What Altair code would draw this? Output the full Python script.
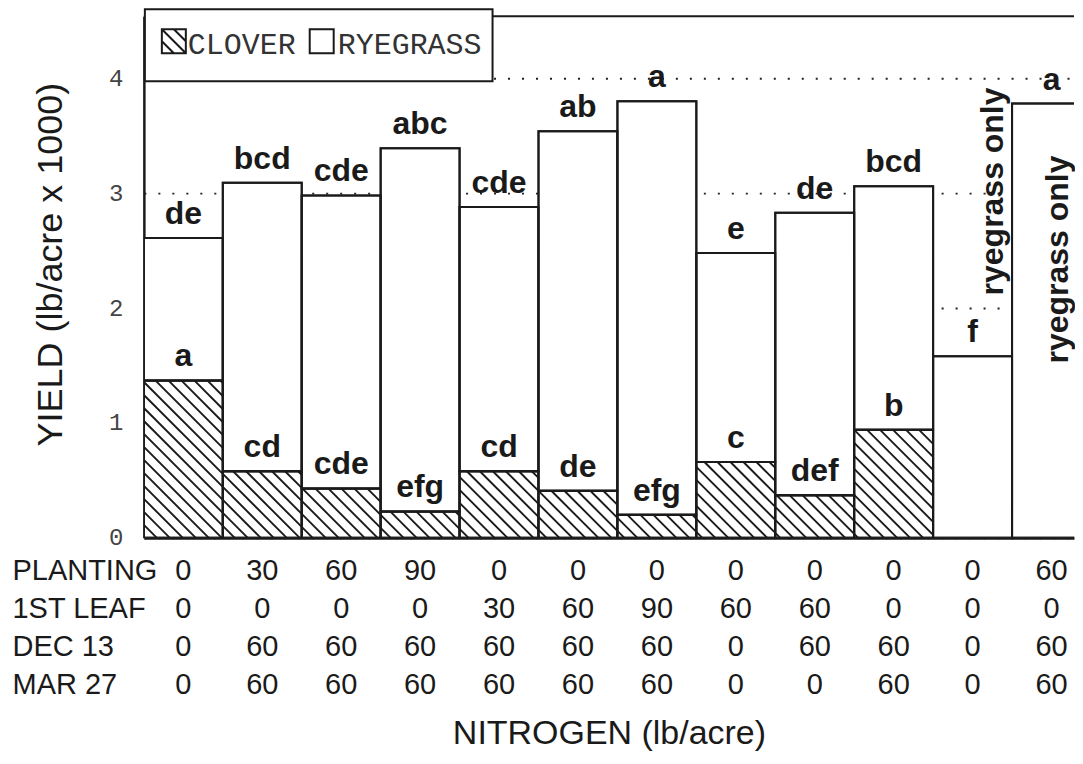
import altair as alt
import numpy as np
import pandas as pd

# ------------------------------------------------------------------ data
treatment = list(range(1, 13))
clover_yield = [1.37, 0.58, 0.43, 0.23, 0.58, 0.41, 0.20, 0.66, 0.37, 0.94, 0.0, 0.0]
total_yield = [2.61, 3.09, 2.98, 3.39, 2.88, 3.54, 3.80, 2.48, 2.83, 3.06, 1.58, 3.78]
clover_letter = ["a", "cd", "cde", "efg", "cd", "de", "efg", "c", "def", "b", "", ""]
total_letter = ["de", "bcd", "cde", "abc", "cde", "ab", "a", "e", "de", "bcd", "f", "a"]
note = ["", "", "", "", "", "", "", "", "", "", "ryegrass only", "ryegrass only"]

row_names = ["PLANTING", "1ST LEAF", "DEC 13", "MAR 27"]
n_planting = [0, 30, 60, 90, 0, 0, 0, 0, 0, 0, 0, 60]
n_first_leaf = [0, 0, 0, 0, 30, 60, 90, 60, 60, 0, 0, 0]
n_dec13 = [0, 60, 60, 60, 60, 60, 60, 0, 60, 60, 0, 60]
n_mar27 = [0, 60, 60, 60, 60, 60, 60, 0, 0, 60, 0, 60]

y_tick_values = [0, 1, 2, 3, 4]
legend_labels = ["CLOVER", "RYEGRASS"]

# ------------------------------------------------------------------ layout
W, H = 931, 522
BAR_PX = 79.0
Y_PX = 115.0
X_LO = 0.5
X_HI = X_LO + W / BAR_PX
Y_HI = H / Y_PX
HATCH_STEP = 13.0

SANS = "Liberation Sans"
MONO = "Liberation Mono"
INK = "#1a1a1a"

xs = alt.Scale(domain=[X_LO, X_HI], nice=False, zero=False)
ys = alt.Scale(domain=[0, Y_HI], nice=False, zero=True)

# stacked segments
seg = []
for t, c, tot in zip(treatment, clover_yield, total_yield):
    if c > 0:
        seg.append(dict(idx=t, part="clover", lo=0.0, hi=c))
    seg.append(dict(idx=t, part="ryegrass", lo=c, hi=tot))
seg_df = pd.DataFrame(seg)

# hatch texture for the clover segments (45 degree lines, clipped to each bar)
hatch = []
for t, c in zip(treatment, clover_yield):
    if c <= 0:
        continue
    x0 = (t - 0.5 - X_LO) * BAR_PX
    wb = BAR_PX
    hb = c * Y_PX
    k = np.ceil(x0 / HATCH_STEP) * HATCH_STEP
    while k < x0 + wb + hb:
        u1 = max(x0, k - hb)
        u2 = min(x0 + wb, k)
        if u2 > u1:
            hatch.append(dict(hx=X_LO + u1 / BAR_PX, hy=(k - u1) / Y_PX,
                              hx2=X_LO + u2 / BAR_PX, hy2=(k - u2) / Y_PX))
        k += HATCH_STEP
hatch_df = pd.DataFrame(hatch)

info_df = pd.DataFrame(dict(idx=treatment, clover=clover_yield, total=total_yield,
                            cl=clover_letter, tl=total_letter, note=note))

tbl = []
for rname, vals in zip(row_names, [n_planting, n_first_leaf, n_dec13, n_mar27]):
    for t, v in zip(treatment, vals):
        tbl.append(dict(idx=t, row=rname, val=str(v)))
tbl_df = pd.DataFrame(tbl)

one = pd.DataFrame({"k": [0]})

# ------------------------------------------------------------------ axes
y_axis = alt.Axis(values=y_tick_values, title="YIELD (lb/acre x 1000)", grid=True,
                  gridDash=[2, 12], gridColor="#222", gridWidth=1.9, ticks=False,
                  labelFont=MONO, labelFontSize=24, labelColor="#444", labelPadding=21,
                  domainColor=INK, domainWidth=2.5,
                  titleFont=SANS, titleFontSize=36, titleFontWeight="normal",
                  titleColor=INK, titleAngle=270, titleX=-82, titleY=248,
                  titleAlign="center", titleBaseline="alphabetic")
x_axis = alt.Axis(labels=False, ticks=False, title=None, grid=False, domain=True,
                  domainColor=INK, domainWidth=3)


def X(field):
    return alt.X(field, scale=xs, axis=x_axis)


def Y(field):
    return alt.Y(field, scale=ys, axis=y_axis)


# ------------------------------------------------------------------ bar panel
frame = alt.Chart(one).mark_rule(stroke=INK, strokeWidth=2).encode(
    x=alt.value(0), x2=alt.value(W), y=alt.value(0))

bars_fill = alt.Chart(seg_df).transform_calculate(
    xl="datum.idx - 0.5", xr="datum.idx + 0.5"
).mark_rect(fill="white", stroke=INK, strokeWidth=2, clip=True).encode(
    x=X("xl:Q"), x2="xr:Q", y=Y("lo:Q"), y2="hi:Q")

hatch_layer = alt.Chart(hatch_df).mark_rule(stroke=INK, strokeWidth=1.9, clip=True).encode(
    x=X("hx:Q"), x2="hx2:Q", y=Y("hy:Q"), y2="hy2:Q")

bars_outline = alt.Chart(seg_df).transform_calculate(
    xl="datum.idx - 0.5", xr="datum.idx + 0.5"
).mark_rect(fill="white", fillOpacity=0, stroke=INK, strokeWidth=2, clip=True).encode(
    x=X("xl:Q"), x2="xr:Q", y=Y("lo:Q"), y2="hi:Q")

label_style = dict(font=SANS, fontSize=32, fontWeight="bold", color=INK,
                   baseline="alphabetic", align="center", dy=-14)

upper = alt.Chart(info_df).mark_text(**label_style).encode(
    x=X("idx:Q"), y=Y("total:Q"), text="tl:N")

lower = alt.Chart(info_df).transform_filter("datum.cl != ''").mark_text(**label_style).encode(
    x=X("idx:Q"), y=Y("clover:Q"), text="cl:N")

note_above = alt.Chart(info_df).transform_filter(
    "datum.note != '' && datum.total < 2"
).mark_text(font=SANS, fontSize=32, fontWeight="bold", color=INK, angle=270,
            align="left", baseline="alphabetic", dx=61, dy=30).encode(
    x=X("idx:Q"), y=Y("total:Q"), text="note:N")

note_inside = alt.Chart(info_df).transform_filter(
    "datum.note != '' && datum.total >= 2"
).mark_text(font=SANS, fontSize=32, fontWeight="bold", color=INK, angle=270,
            align="right", baseline="alphabetic", dx=-52, dy=16).encode(
    x=X("idx:Q"), y=Y("total:Q"), text="note:N")

legend_box = alt.Chart(one).mark_rect(fill="white", stroke=INK, strokeWidth=2).encode(
    x=alt.value(1), x2=alt.value(349), y=alt.value(-7), y2=alt.value(65))

swatch_clover = alt.Chart(one).mark_point(
    shape="M-1,-1H1V1H-1Z M-1,-1L1,1 M0,-1L1,0 M-1,0L0,1",
    size=576, stroke=INK, strokeWidth=2, filled=False, opacity=1
).encode(x=alt.value(30), y=alt.value(25))

swatch_rye = alt.Chart(one).mark_point(
    shape="square", size=576, stroke=INK, strokeWidth=2, filled=False, opacity=1
).encode(x=alt.value(178), y=alt.value(25))

leg_txt_style = dict(font=MONO, fontSize=30, color="#333", align="left", baseline="alphabetic")
leg_text1 = alt.Chart(one).mark_text(**leg_txt_style).encode(
    x=alt.value(44), y=alt.value(38), text=alt.value(legend_labels[0]))
leg_text2 = alt.Chart(one).mark_text(**leg_txt_style).encode(
    x=alt.value(194), y=alt.value(38), text=alt.value(legend_labels[1]))

bar_panel = alt.layer(
    bars_fill, hatch_layer, bars_outline, upper, lower, note_above, note_inside,
    frame, legend_box, swatch_clover, swatch_rye, leg_text1, leg_text2
).properties(width=W, height=H)

# ------------------------------------------------------------------ table panel
table = alt.Chart(tbl_df).mark_text(font=SANS, fontSize=29, color=INK, baseline="middle",
                                    align="center").encode(
    x=alt.X("idx:Q", scale=xs,
            axis=alt.Axis(labels=False, ticks=False, grid=False, domain=False,
                          title="NITROGEN (lb/acre)", titleFont=SANS, titleFontSize=34,
                          titleFontWeight="normal", titleColor=INK, titlePadding=13)),
    y=alt.Y("row:N", sort=row_names, scale=alt.Scale(paddingInner=0, paddingOuter=0),
            axis=alt.Axis(title=None, ticks=False, tickSize=0, domain=False, grid=False,
                          labelAlign="left", labelPadding=132, labelFont=SANS,
                          labelFontSize=29, labelColor=INK, labelBaseline="middle")),
    text="val:N"
).properties(width=W, height=152)

chart = alt.vconcat(bar_panel, table, spacing=2).properties(
    padding={"left": 4, "top": 0, "right": 0, "bottom": 0},
    background="white"
).configure_view(stroke=None)

chart.save("out.html", embed_options={"renderer": "svg", "actions": False})
